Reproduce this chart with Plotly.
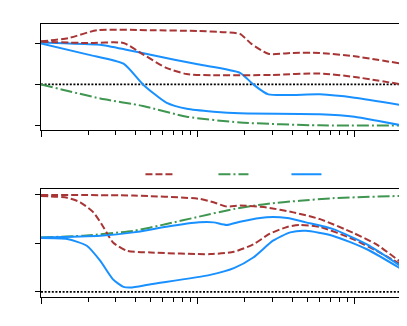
import plotly.graph_objects as go
from plotly.subplots import make_subplots

# Top panel series (x on log axis, 1..200)
top_red_hi_x = [1, 1.5, 2.28, 5, 10, 15, 18.6, 22, 28.2, 40, 60, 100, 200]
top_red_hi_y = [1.04, 1.12, 1.31, 1.31, 1.29, 1.26, 1.22, 0.98, 0.74, 0.76, 0.76, 0.68, 0.50]
top_red_lo_x = [1, 2, 3.36, 4.5, 6.3, 8.5, 12.6, 30, 60, 100, 200]
top_red_lo_y = [1.03, 1.0, 1.0, 0.72, 0.40, 0.25, 0.22, 0.23, 0.265, 0.18, 0.0]
top_blue_hi_x = [1, 1.4, 1.9, 2.39, 3.5, 5, 10, 18.6, 22.6, 28.2, 60, 100, 200]
top_blue_hi_y = [1.01, 0.995, 0.975, 0.96, 0.84, 0.715, 0.486, 0.28, 0.0, -0.24, -0.24, -0.32, -0.50]
top_blue_lo_x = [1, 2, 3.36, 4.47, 6.3, 8.51, 12.6, 18.6, 60, 100, 140, 200]
top_blue_lo_y = [0.99, 0.72, 0.50, 0.0, -0.44, -0.59, -0.66, -0.70, -0.72, -0.78, -0.88, -0.99]
top_green_x = [1, 2.39, 4.47, 8.51, 18.6, 60, 200]
top_green_y = [0.0, -0.34, -0.52, -0.78, -0.92, -0.99, -0.99]

# Bottom panel series
bot_red_hi_x = [1, 3.89, 10.2, 12.6, 15.3, 18.6, 27.5, 40.7, 60.3, 97.7, 138, 200]
bot_red_hi_y = [1.0, 0.993, 0.96, 0.924, 0.88, 0.89, 0.87, 0.82, 0.75, 0.61, 0.49, 0.30]
bot_red_lo_x = [1, 1.47, 1.78, 2.16, 2.51, 2.88, 3.53, 5.01, 12.0, 17.0, 22.6, 28.8,
                37.2, 44.7, 60.3, 97.7, 138, 200]
bot_red_lo_y = [0.99, 0.97, 0.924, 0.82, 0.665, 0.51, 0.424, 0.407, 0.39, 0.414, 0.49, 0.60,
                0.67, 0.69, 0.67, 0.545, 0.424, 0.28]
bot_green_x = [1, 1.86, 3.89, 6.31, 10.2, 17.0, 27.5, 44.7, 72.4, 200]
bot_green_y = [0.562, 0.58, 0.63, 0.70, 0.776, 0.855, 0.907, 0.94, 0.966, 0.99]
bot_blue_hi_x = [1, 2.39, 3.89, 6.31, 10.2, 12.6, 15.3, 18.6, 27.5, 37.2, 49.0, 72.4, 120, 200]
bot_blue_hi_y = [0.562, 0.58, 0.614, 0.672, 0.717, 0.717, 0.69, 0.724, 0.77, 0.762, 0.717,
                 0.65, 0.49, 0.26]
bot_blue_lo_x = [1, 1.47, 1.96, 2.39, 2.88, 3.36, 3.72, 5.01, 12.0, 17.0, 22.6, 30.2, 38.9,
                 49.0, 72.4, 120, 200]
bot_blue_lo_y = [0.555, 0.545, 0.476, 0.32, 0.13, 0.052, 0.045, 0.08, 0.176, 0.245, 0.355,
                 0.528, 0.614, 0.63, 0.58, 0.44, 0.234]

ref_x = [1, 200]
top_ref_y = [0, 0]
bot_ref_y = [0, 0]

RED = '#a83535'
GREEN = '#3f9650'
BLUE = '#1890ff'
RED_DASH = '7px,3px'
GREEN_DASH = '12px,3px,2px,3px'
DOT = '2px,1.6px'

fig = make_subplots(rows=2, cols=1)

def add(x, y, color, dash, row, legend=False, width=2):
    fig.add_trace(go.Scatter(x=x, y=y, mode='lines', name='', showlegend=legend,
                             line=dict(color=color, dash=dash, width=width,
                                       shape='spline', smoothing=0.6)),
                  row=row, col=1)

add(ref_x, top_ref_y, 'black', DOT, 1, width=1.8)
add(top_red_hi_x, top_red_hi_y, RED, RED_DASH, 1, legend=True)
add(top_green_x, top_green_y, GREEN, GREEN_DASH, 1, legend=True)
add(top_blue_hi_x, top_blue_hi_y, BLUE, 'solid', 1, legend=True)
add(top_red_lo_x, top_red_lo_y, RED, RED_DASH, 1)
add(top_blue_lo_x, top_blue_lo_y, BLUE, 'solid', 1)

add(ref_x, bot_ref_y, 'black', DOT, 2, width=1.8)
add(bot_green_x, bot_green_y, GREEN, GREEN_DASH, 2)
add(bot_red_hi_x, bot_red_hi_y, RED, RED_DASH, 2)
add(bot_red_lo_x, bot_red_lo_y, RED, RED_DASH, 2)
add(bot_blue_hi_x, bot_blue_hi_y, BLUE, 'solid', 2)
add(bot_blue_lo_x, bot_blue_lo_y, BLUE, 'solid', 2)

minor_vals = [2, 3, 4, 5, 6, 7, 8, 9, 20, 30, 40, 50, 60, 70, 80, 90, 200]
xax = dict(type='log', range=[0, 2.303], showgrid=False, zeroline=False,
           showline=True, linecolor='black', linewidth=1.2, mirror=True,
           ticks='outside', ticklen=6, tickcolor='black', tickvals=[1, 10, 100],
           showticklabels=False, automargin=False,
           minor=dict(ticks='outside', ticklen=4, tickcolor='black', tickvals=minor_vals,
                      showgrid=False))
fig.update_xaxes(**xax)

yax = dict(showgrid=False, zeroline=False, showline=True, linecolor='black',
           linewidth=1.2, mirror=True, ticks='outside', ticklen=5, tickcolor='black',
           showticklabels=False, automargin=False)
fig.update_yaxes(**yax)
fig.update_yaxes(range=[-1.1, 1.46], tickvals=[-1, 0, 1], domain=[0.612, 1], row=1, col=1)
fig.update_yaxes(range=[-0.052, 1.062], tickvals=[0, 0.5, 1], domain=[0, 0.396], row=2, col=1)

# the page body adds an 8px offset, so margins are trimmed accordingly
fig.update_layout(
    width=407, height=326,
    margin=dict(l=33, r=13, t=16, b=37),
    plot_bgcolor='white', paper_bgcolor='white',
    legend=dict(orientation='h', x=0.2755, xanchor='left', y=0.45, yanchor='middle',
                entrywidth=28, entrywidthmode='pixels', bgcolor='rgba(0,0,0,0)',
                font=dict(size=10)),
)

fig.write_html("out.html")
